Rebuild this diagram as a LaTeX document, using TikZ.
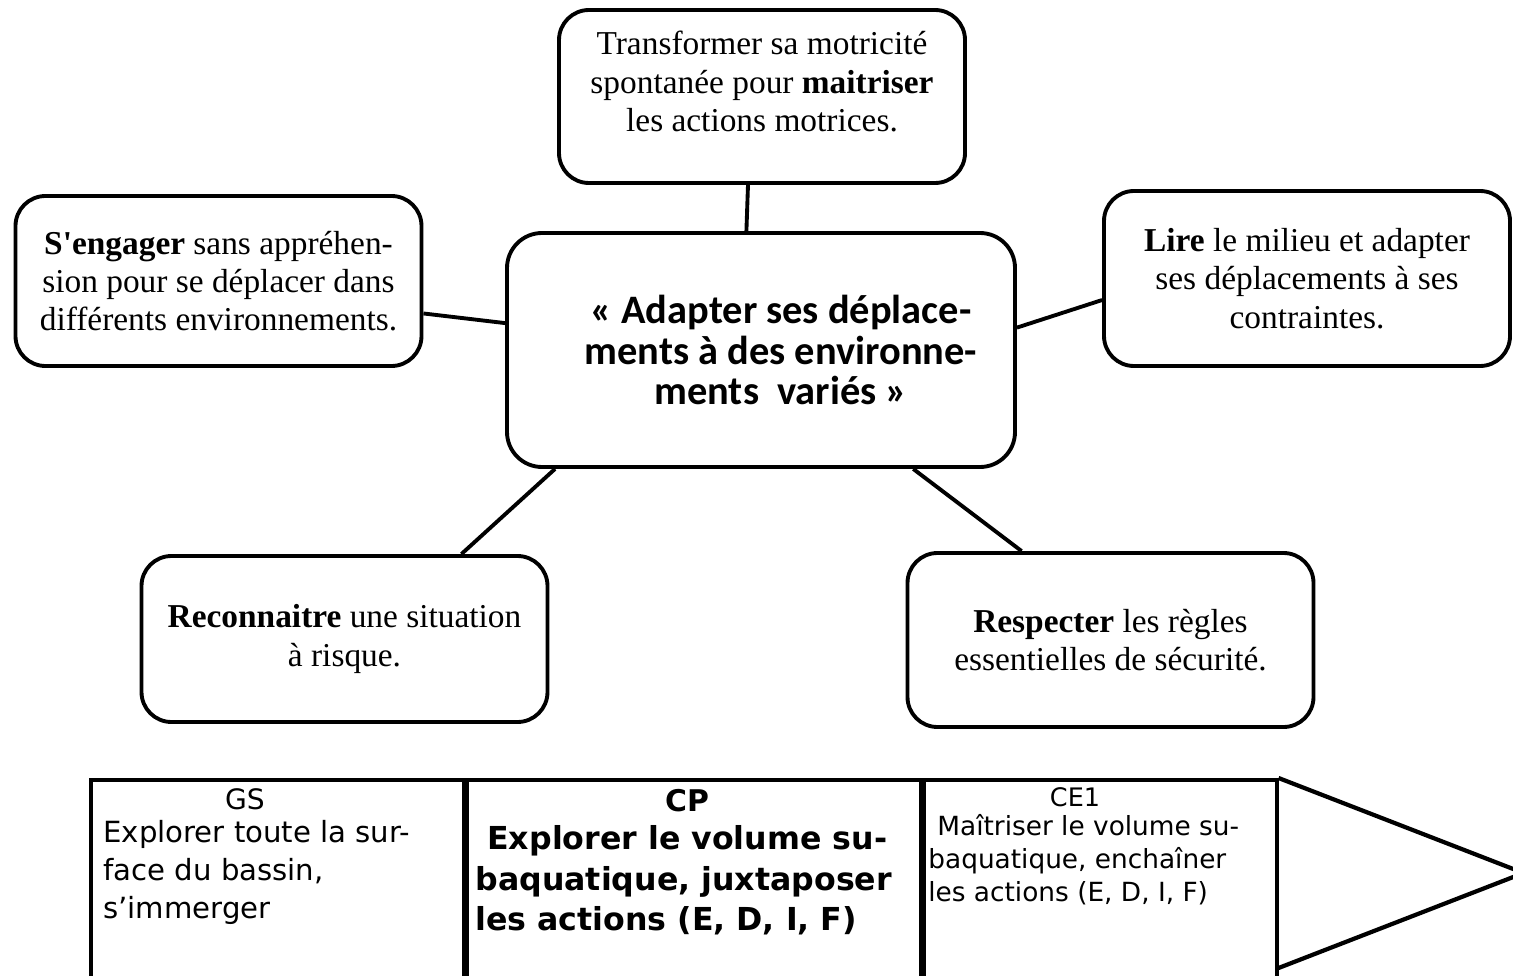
\documentclass[tikz,border=0pt]{standalone}
\usepackage{fontspec}
\setmainfont{Liberation Serif}[Ligatures=TeXOff]
\newfontfamily\hubfont{Carlito}
\newfontfamily\tabfont{DejaVu Sans}

\begin{document}
\begin{tikzpicture}[
    every node/.style={align=center},
    goal/.style={rectangle, rounded corners=0.6cm, draw, line width=2.2pt, minimum width=8.12cm, minimum height=3.4cm, font=\fontsize{19}{21.8}\selectfont},
    hub/.style={rectangle, rounded corners=0.7cm, draw, line width=2.2pt, minimum width=10.16cm, minimum height=4.68cm, font=\hubfont\bfseries\fontsize{23}{22.8}\selectfont},
    cell/.style={rectangle, draw, line width=2pt, anchor=north west, minimum height=5cm},
    head/.style={anchor=north, inner sep=0pt},
    body/.style={anchor=north west, align=left, inner sep=0pt},
    link/.style={line width=2.2pt}
]
    % Frame
    \useasboundingbox (0,0) rectangle (30.26,-19.52);
    \clip (0,0) rectangle (30.26,-19.52);

    % Central skill
    \node[hub] (hub) at (15.22,-7.00) {\hspace*{0.8cm}«~Adapter ses déplace-\\\hspace*{0.8cm}ments à des environne-\\\hspace*{0.8cm}ments~~variés~»};

    % Surrounding goals
    \node[goal, minimum height=3.46cm, text depth=0.6cm] (motor) at (15.24,-1.93) {Transformer sa motricité\\spontanée pour \textbf{maitriser}\\les actions motrices.};
    \node[goal] (engage) at (4.37,-5.62) {\textbf{S'engager} sans appréhen-\\sion pour se déplacer dans\\différents environnements.};
    \node[goal, minimum height=3.5cm] (read) at (26.14,-5.57) {\textbf{Lire} le milieu et adapter\\ses déplacements à ses\\contraintes.};
    \node[goal, minimum height=3.32cm] (risk) at (6.89,-12.78) {\textbf{Reconnaitre} une situation\\à risque.};
    \node[goal, minimum height=3.48cm] (rules) at (22.21,-12.80) {\textbf{Respecter} les règles\\essentielles de sécurité.};

    % Connections
    \draw[link] (motor.261) -- (hub.97);
    \draw[link] (engage.351) -- (hub.174);
    \draw[link] (read.186) -- (hub.5);
    \draw[link] (risk.36) -- (hub.210);
    \draw[link] (rules.135) -- (hub.322);

    % Level table
    \node[cell, minimum width=7.46cm] (gs) at (1.78,-15.56) {};
    \node[cell, minimum width=9.06cm] (cp) at (gs.north east) {};
    \node[cell, minimum width=7.06cm] (ce) at (cp.north east) {};
    \draw[line width=2.4pt] (ce.north east) -- ++(4.9,-1.9) -- ++(-4.9,-1.9);

    % Table texts
    \node[head, font=\tabfont\fontsize{16}{18}\selectfont] (gshead) at (4.9,-15.76) {GS};
    \node[body, font=\tabfont\fontsize{16.6}{21.5}\selectfont] (gstext) at (2.06,-16.40) {Explorer toute la sur-\\face du bassin,\\s’immerger};
    \node[head, font=\tabfont\bfseries\fontsize{17}{18}\selectfont] (cphead) at (13.74,-15.78) {CP};
    \node[body, font=\tabfont\bfseries\fontsize{18}{23.2}\selectfont] (cptext) at (9.5,-16.50) {\hspace*{0.24cm}Explorer le volume su-\\baquatique, juxtaposer\\les actions (E, D, I, F)};
    \node[head, font=\tabfont\fontsize{14.5}{16}\selectfont] (cehead) at (21.5,-15.74) {CE1};
    \node[body, font=\tabfont\fontsize{15}{18.7}\selectfont] (cetext) at (18.56,-16.28) {\hspace*{0.18cm}Maîtriser le volume su-\\baquatique, enchaîner\\les actions (E, D, I, F)};
\end{tikzpicture}
\end{document}
